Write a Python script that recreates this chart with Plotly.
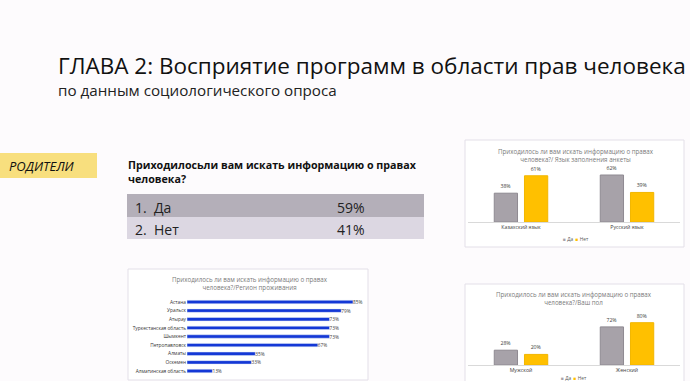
import plotly.graph_objects as go

W, H = 690, 381


def px(x):
    return x / W


def py(y):
    return 1 - y / H


# ---------------- data ----------------
title_text = "ГЛАВА 2: Восприятие программ в области прав человека"
subtitle_text = "по данным социологического опроса"
section_label = "РОДИТЕЛИ"
question_text = "Приходилосьли вам искать информацию о правах<br>человека?"
answers = ["1.  Да", "2.  Нет"]
answer_shares = [59, 41]

chart_question = "Приходилось ли вам искать информацию о правах"
legend_names = ["Да", "Нет"]

lang_title = chart_question + "<br>человека?/ Язык заполнения анкеты"
lang_categories = ["Казахский язык", "Русский язык"]
lang_yes = [38, 62]
lang_no = [61, 39]

region_title = chart_question + "<br>человека?/Регион проживания"
regions = ["Астана", "Уральск", "Атырау", "Туркестанская область", "Шымкент",
           "Петропавловск", "Алматы", "Оскемен", "Алматинская область"]
region_values = [85, 79, 73, 73, 73, 67, 35, 33, 13]

gender_title = chart_question + "<br>человека?/Ваш пол"
gender_categories = ["Мужской", "Женский"]
gender_yes = [28, 72]
gender_no = [20, 80]

# ---------------- styles ----------------
BG = "#fdfbfd"
PANEL = "#ffffff"
PANEL_LINE = "#e3dfe8"
GREY = "#a7a2a9"
GREY_LINE = "#8f8a92"
ORANGE = "#ffc000"
ORANGE_LINE = "#f2b600"
BLUE = "#1438d6"
ROW1 = "#b4afb9"
ROW2 = "#dcd7e2"
FONT = "Open Sans"
LABEL_COLOR = "#404040"

fig = go.Figure()

# table
fig.add_trace(go.Table(
    domain=dict(x=[px(127), px(423)], y=[py(240), py(194)]),
    columnwidth=[202, 94],
    header=dict(values=[answers[0], f"{answer_shares[0]}%"],
                fill_color=ROW1, line_color=ROW1, align="left", height=22,
                font=dict(family=FONT, size=14, color="#222222")),
    cells=dict(values=[[answers[1]], [f"{answer_shares[1]}%"]],
               fill_color=ROW2, line_color=ROW2, align="left", height=23,
               font=dict(family=FONT, size=14, color="#222222")),
))

bar_text_font = dict(family=FONT, size=5.2, color=LABEL_COLOR)

# chart 1: language
fig.add_trace(go.Bar(x=lang_categories, y=lang_yes, name=legend_names[0],
                     marker=dict(color=GREY, line=dict(color=GREY_LINE, width=1)),
                     texttemplate="%{y}%", textposition="outside", textfont=bar_text_font,
                     cliponaxis=False, xaxis="x", yaxis="y", showlegend=False))
fig.add_trace(go.Bar(x=lang_categories, y=lang_no, name=legend_names[1],
                     marker=dict(color=ORANGE, line=dict(color=ORANGE_LINE, width=1)),
                     texttemplate="%{y}%", textposition="outside", textfont=bar_text_font,
                     cliponaxis=False, xaxis="x", yaxis="y", showlegend=False))

# chart 2: regions
fig.add_trace(go.Bar(y=regions, x=region_values, orientation="h", width=0.4,
                     marker=dict(color=BLUE),
                     texttemplate="%{x}%", textposition="outside",
                     textfont=dict(family=FONT, size=4.8, color=LABEL_COLOR),
                     constraintext="none",
                     cliponaxis=False, xaxis="x2", yaxis="y2", showlegend=False))

# chart 3: gender
fig.add_trace(go.Bar(x=gender_categories, y=gender_yes, name=legend_names[0],
                     marker=dict(color=GREY, line=dict(color=GREY_LINE, width=1)),
                     texttemplate="%{y}%", textposition="outside", textfont=bar_text_font,
                     cliponaxis=False, xaxis="x3", yaxis="y3", showlegend=False))
fig.add_trace(go.Bar(x=gender_categories, y=gender_no, name=legend_names[1],
                     marker=dict(color=ORANGE, line=dict(color=ORANGE_LINE, width=1)),
                     texttemplate="%{y}%", textposition="outside", textfont=bar_text_font,
                     cliponaxis=False, xaxis="x3", yaxis="y3", showlegend=False))

tick_font = dict(family=FONT, size=5.2, color=LABEL_COLOR)
cat_axis = dict(range=[-0.5, 1.5], showline=True, linecolor="#d9d9d9", linewidth=1,
                ticks="", showgrid=False, zeroline=False, tickfont=tick_font, fixedrange=True)
hidden = dict(visible=False, showgrid=False, zeroline=False, fixedrange=True)

shapes = [
    # section label box
    dict(type="rect", xref="paper", yref="paper", x0=px(0), x1=px(97), y0=py(178), y1=py(153),
         fillcolor="#f8df7e", line=dict(width=0), layer="below"),
    # panels
    dict(type="rect", xref="paper", yref="paper", x0=px(465), x1=px(684), y0=py(247), y1=py(140),
         fillcolor=PANEL, line=dict(color=PANEL_LINE, width=1), layer="below"),
    dict(type="rect", xref="paper", yref="paper", x0=px(128), x1=px(368), y0=py(380), y1=py(269),
         fillcolor=PANEL, line=dict(color=PANEL_LINE, width=1), layer="below"),
    dict(type="rect", xref="paper", yref="paper", x0=px(465), x1=px(684), y0=py(383), y1=py(284),
         fillcolor=PANEL, line=dict(color=PANEL_LINE, width=1), layer="below"),
]


def legend_text():
    return (f'<span style="color:{GREY}">■</span> {legend_names[0]}  '
            f'<span style="color:{ORANGE}">■</span> {legend_names[1]}')


chart_title_font = dict(family=FONT, size=6.2, color="#7a7a7a")
annotations = [
    dict(text=title_text, x=px(56), y=py(65), xanchor="left", yanchor="middle",
         font=dict(family=FONT, size=22.5, color="#111111")),
    dict(text=subtitle_text, x=px(56), y=py(90), xanchor="left", yanchor="middle",
         font=dict(family=FONT, size=15.2, color="#222222")),
    dict(text=section_label, x=px(7), y=py(166), xanchor="left", yanchor="middle",
         font=dict(family=FONT, size=13, color="#111111", style="italic")),
    dict(text="<b>" + question_text + "</b>", x=px(126), y=py(172), xanchor="left", yanchor="middle",
         align="left", font=dict(family=FONT, size=10.7, color="#111111")),
    dict(text=lang_title, x=px(576), y=py(155), xanchor="center", yanchor="middle",
         font=chart_title_font),
    dict(text=region_title, x=px(250), y=py(283), xanchor="center", yanchor="middle",
         font=chart_title_font),
    dict(text=gender_title, x=px(574), y=py(298), xanchor="center", yanchor="middle",
         font=chart_title_font),
    dict(text=legend_text(), x=px(576), y=py(239), xanchor="center", yanchor="middle",
         font=dict(family=FONT, size=4.8, color="#595959")),
    dict(text=legend_text(), x=px(574), y=py(378), xanchor="center", yanchor="middle",
         font=dict(family=FONT, size=4.8, color="#595959")),
]
for a in annotations:
    a.update(xref="paper", yref="paper", showarrow=False)

fig.update_layout(
    width=W, height=H,
    margin=dict(l=0, r=0, t=0, b=0),
    paper_bgcolor=BG, plot_bgcolor="rgba(0,0,0,0)",
    barmode="group", bargap=0.43, bargroupgap=0.23,
    showlegend=False,
    font=dict(family=FONT),
    xaxis=dict(cat_axis, domain=[px(468), px(680)], anchor="y"),
    yaxis=dict(hidden, domain=[py(222), py(150)], range=[0, 95], anchor="x"),
    xaxis2=dict(hidden, domain=[px(187), px(368)], range=[0, 92.7], anchor="y2"),
    yaxis2=dict(domain=[py(375.3), py(297.7)], autorange="reversed", anchor="x2",
                ticks="", showgrid=False, zeroline=False, showline=False,
                tickfont=dict(family=FONT, size=4.8, color="#333333"), fixedrange=True),
    xaxis3=dict(cat_axis, domain=[px(468), px(680)], anchor="y3"),
    yaxis3=dict(hidden, domain=[py(365), py(310)], range=[0, 104], anchor="x3"),
    shapes=shapes,
    annotations=annotations,
)

fig.write_html(
    "out.html",
    config={"displayModeBar": False, "staticPlot": False},
    post_script="document.body.style.margin='0';document.body.style.overflow='hidden';",
)
